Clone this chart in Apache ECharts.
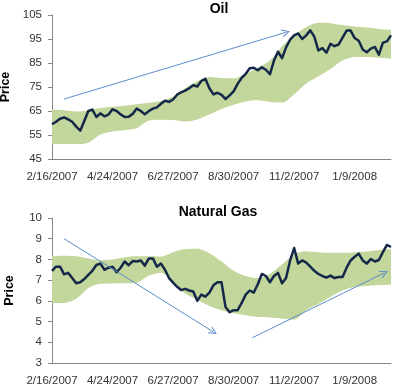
<!DOCTYPE html>
<html>
<head>
<meta charset="utf-8">
<script src="https://cdn.jsdelivr.net/npm/echarts@6/dist/echarts.min.js"></script>
<style>html,body{margin:0;padding:0;background:#fff}#c{width:400px;height:390px}</style>
</head>
<body>
<div id="c"></div>
<script>
// ---- data ----
const tickLabels = ['2/16/2007','4/24/2007','6/27/2007','8/30/2007','11/2/2007','1/9/2008'];
const labelEvery = 45;   // trading days between labelled categories
const priceStep = 3;     // trading days between price samples
const bandStep = 9;      // trading days between band samples
const dayCount = 253;    // trading days on the category axis
const days = Array.from({ length: dayCount }, (_, i) => String(i)); // category = trading-day number

const oilPrice = [59.5,60.5,61.8,62.3,61.5,60.5,58.5,56.8,60.8,65,
  65.6,62.5,64,62.8,63.5,65.7,65,63.6,62.5,62.6,
  63.8,66,65,63.6,65,66,66.5,68,69.3,68.8,
  69.8,71.8,72.8,73.5,74.5,75.7,75.2,77.5,78.4,74.5,
  71.9,72.6,71.7,70,71.5,73.2,76.3,78.8,80.5,82.8,
  83,82,83.2,82.2,80.3,86,89.7,87,91.5,94.7,
  96.5,97.3,95,96.5,98.6,96,90.2,91.2,89.3,93,
  92,92.7,95.6,98.5,98.5,95.4,94.3,90.6,89.5,91,
  91.7,88.5,93.5,94,96.5];
const oilUpper = [65.6,65.3,64.8,65.2,66.2,66.8,67.2,67.8,68.4,69.2,71,74.5,77.5,79.2,78.8,78.6,80.5,83,86,92,96.5,100,101.8,101.6,100.8,100.2,99.8,99.2,98.8];
const oilLower = [51.2,51.2,51.2,51.8,55.2,56.5,57,57.8,61,61.4,61.2,60.6,61.5,63.5,65.8,67.6,69,69.5,68.8,68.5,72,76.5,79.5,82.5,86,87.5,87.5,87.2,86.8];

const gasPrice = [7.45,7.65,7.65,7.28,7.35,7.1,6.85,6.9,7.05,7.25,
  7.45,7.73,7.8,7.5,7.6,7.65,7.38,7.6,7.9,7.72,
  7.92,7.9,7.95,7.7,8.05,8.05,7.65,7.8,7.5,7.1,
  6.88,6.68,6.52,6.58,6.5,6.45,6.0,6.3,6.2,6.4,
  6.75,6.9,6.9,5.7,5.45,5.55,5.55,5.9,6.3,6.5,
  6.4,6.8,7.3,7.2,6.9,7.2,7.35,6.85,7.1,7.95,
  8.55,7.8,7.95,7.85,7.65,7.45,7.3,7.2,7.12,7.22,
  7.1,7.15,7.15,7.6,7.95,8.13,8.28,7.95,7.8,8.02,
  7.9,7.97,8.35,8.7,8.6];
const gasUpper = [8.15,8.18,8.15,8.05,7.96,8.0,8.1,8.15,8.15,8.14,8.35,8.5,8.52,8.3,7.9,7.45,7.2,7.1,7.3,7.75,8.25,8.4,8.35,8.32,8.32,8.35,8.38,8.45,8.5];
const gasLower = [5.9,5.9,6.1,6.62,6.82,6.84,6.85,6.88,7.22,7.36,6.9,6.35,6.05,5.75,5.55,5.4,5.3,5.22,5.2,5.15,5.1,5.55,5.85,6.2,6.5,6.68,6.72,6.76,6.78];

// trend arrows: [start [day, price], end [day, price]]
const oilArrows = [[[9,70],[174,97.8]]];
const gasArrows = [[[9,9.0],[120,4.5]], [[149,4.22],[247,7.35]]];

// ---- chart ----
const FONT = 'Liberation Sans, Arial, sans-serif';
const GREEN = '#c3d69b';
const LINE = '#14284a';
const ARROW = '#5b8bc9';
const AXIS = '#868686';
const arrowHead = 'path://M0,10 L5,0 L10,10 L8.6,10 L5,2.8 L1.4,10 Z';

const toXY = (arr, step) => arr.map((v, i) => [i * step, v]);
const diffXY = (up, lo, step) => up.map((v, i) => [i * step, +(v - lo[i]).toFixed(3)]);

function xAxis(gi) {
  return {
    gridIndex: gi, type: 'category', data: days, boundaryGap: false,
    axisLine: { show: true, lineStyle: { color: AXIS, width: 1 } },
    axisTick: { show: false }, splitLine: { show: false },
    axisLabel: {
      interval: i => i % labelEvery === 0,
      margin: 12, color: '#333', fontFamily: FONT, fontSize: 11.5,
      formatter: (v, i) => tickLabels[i / labelEvery] || ''
    }
  };
}
function yAxis(gi, min, max, interval) {
  return {
    gridIndex: gi, type: 'value', min, max, interval,
    name: 'Price', nameLocation: 'middle', nameGap: 36, nameRotate: 90,
    nameTextStyle: { fontFamily: FONT, fontWeight: 'bold', fontSize: 12.5, color: '#000' },
    axisLine: { show: true, lineStyle: { color: AXIS, width: 1 } },
    axisTick: { show: true, length: 4, inside: false, lineStyle: { color: AXIS } },
    splitLine: { show: false },
    axisLabel: { margin: 10, color: '#333', fontFamily: FONT, fontSize: 11.5 }
  };
}
function bandSeries(gi, up, lo, key) {
  return [
    { type: 'line', xAxisIndex: gi, yAxisIndex: gi, stack: key, data: toXY(lo, bandStep),
      symbol: 'none', smooth: 0.3, lineStyle: { opacity: 0, width: 0 }, silent: true, z: 1 },
    { type: 'line', xAxisIndex: gi, yAxisIndex: gi, stack: key, data: diffXY(up, lo, bandStep),
      symbol: 'none', smooth: 0.3, lineStyle: { opacity: 0, width: 0 },
      areaStyle: { color: GREEN, opacity: 1 }, silent: true, z: 1 }
  ];
}
function priceSeries(gi, vals, arrows) {
  return {
    type: 'line', xAxisIndex: gi, yAxisIndex: gi, data: toXY(vals, priceStep),
    symbol: 'none', lineStyle: { color: LINE, width: 2.5, join: 'round' }, z: 3,
    markLine: {
      silent: true, animation: false,
      symbol: ['none', arrowHead], symbolSize: [8, 8],
      lineStyle: { color: ARROW, width: 1, type: 'solid' },
      label: { show: false },
      emphasis: { disabled: true },
      data: arrows.map(a => [{ coord: a[0] }, { coord: a[1] }])
    }
  };
}

const chart = echarts.init(document.getElementById('c'), null, { renderer: 'canvas' });
chart.setOption({
  animation: false,
  grid: [
    { left: 52, right: 9, top: 15, height: 144, containLabel: false, outerBoundsMode: 'none' },
    { left: 52, right: 9, top: 218, height: 145, containLabel: false, outerBoundsMode: 'none' }
  ],
  xAxis: [xAxis(0), xAxis(1)],
  yAxis: [yAxis(0, 45, 105, 10), yAxis(1, 3, 10, 1)],
  graphic: [
    { type: 'text', x: 219, y: 9, style: { text: 'Oil', textAlign: 'center', textVerticalAlign: 'middle', font: 'bold 14px ' + FONT, fill: '#000' } },
    { type: 'text', x: 218, y: 212, style: { text: 'Natural Gas', textAlign: 'center', textVerticalAlign: 'middle', font: 'bold 14px ' + FONT, fill: '#000' } }
  ],
  series: [
    ...bandSeries(0, oilUpper, oilLower, 'oilBand'),
    priceSeries(0, oilPrice, oilArrows),
    ...bandSeries(1, gasUpper, gasLower, 'gasBand'),
    priceSeries(1, gasPrice, gasArrows)
  ]
});
</script>
</body>
</html>
